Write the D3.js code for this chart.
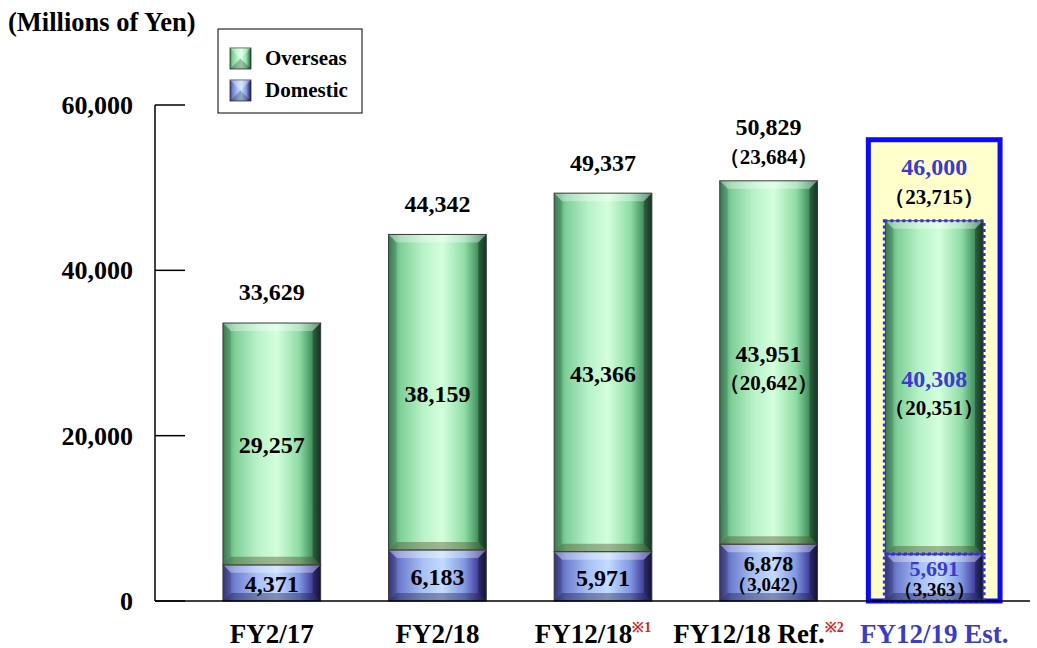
<!DOCTYPE html>
<html>
<head>
<meta charset="utf-8">
<script src="https://cdn.jsdelivr.net/npm/d3@7"></script>
<style>
  html, body { margin: 0; padding: 0; background: #fff; }
  svg text { font-family: "Liberation Serif", "Times New Roman", serif; font-weight: bold; }
</style>
</head>
<body>
<svg id="chart" width="1037" height="648"></svg>
<script>
// Net sales by fiscal period (millions of yen)
const categories = ["FY2/17", "FY2/18", "FY12/18", "FY12/18 Ref.", "FY12/19 Est."];
const notes      = ["", "", "※1", "※2", ""];
const overseas   = [29257, 38159, 43366, 43951, 40308];
const domestic   = [4371, 6183, 5971, 6878, 5691];
const totals     = [33629, 44342, 49337, 50829, 46000];
// figures shown in parentheses (comparable-period basis)
const subTotals   = [null, null, null, 23684, 23715];
const subOverseas = [null, null, null, 20642, 20351];
const subDomestic = [null, null, null, 3042, 3363];
const yTicks = [0, 20000, 40000, 60000];
const estimateIndex = 4;

const svg = d3.select("#chart");
const fmt = d3.format(",");
const blue = "#3b3bd0";

const x = d3.scaleBand().domain(categories).range([189, 1017]).paddingInner(0.41).paddingOuter(0.205);
const y = d3.scaleLinear().domain([0, 60000]).range([601, 105]);

// ---- gradients ----
const defs = svg.append("defs");
function hGrad(id, stops) {
  const g = defs.append("linearGradient").attr("id", id).attr("x1", 0).attr("x2", 1).attr("y1", 0).attr("y2", 0);
  stops.forEach(([o, c]) => g.append("stop").attr("offset", o).attr("stop-color", c));
}
hGrad("gGreen", [[0, "#3f8a5c"], [0.12, "#7fcf98"], [0.35, "#b8f2c8"], [0.55, "#d4ffdc"], [0.78, "#8fdca6"], [0.9, "#4a9a66"], [1, "#1c4a2e"]]);
hGrad("gBlue", [[0, "#3a3a8a"], [0.12, "#7080d0"], [0.35, "#a8c0f4"], [0.55, "#c4dcff"], [0.78, "#8098e0"], [0.9, "#4a4aa8"], [1, "#1a1a50"]]);

// ---- estimate highlight frame ----
const ex = x(categories[estimateIndex]);
svg.append("rect")
  .attr("x", ex - 17).attr("y", y(totals[estimateIndex]) - 81)
  .attr("width", x.bandwidth() + 34).attr("height", y(0) - y(totals[estimateIndex]) + 81)
  .attr("fill", "#ffffcc").attr("stroke", "#0a0aff").attr("stroke-width", 5);

// ---- bars ----
const segs = [];
categories.forEach((c, i) => {
  segs.push({ c, i, kind: "d", y0: 0, y1: domestic[i] });
  segs.push({ c, i, kind: "o", y0: domestic[i], y1: domestic[i] + overseas[i] });
});

const bev = 8;
const bw = x.bandwidth();
const g = svg.append("g");
segs.forEach(s => {
  const x0 = x(s.c), top = y(s.y1), bot = y(s.y0), h = bot - top;
  const grp = g.append("g");
  grp.append("rect").attr("x", x0).attr("y", top).attr("width", bw).attr("height", h)
    .attr("fill", s.kind === "o" ? "url(#gGreen)" : "url(#gBlue)");
  const b = Math.min(bev, h / 3);
  // bevelled edges: light top, dark bottom, shaded sides
  grp.append("path").attr("d", `M${x0},${top}L${x0 + bw},${top}L${x0 + bw - b},${top + b}L${x0 + b},${top + b}Z`)
    .attr("fill", "#ffffff").attr("opacity", 0.35);
  grp.append("path").attr("d", `M${x0},${bot}L${x0 + bw},${bot}L${x0 + bw - b},${bot - b}L${x0 + b},${bot - b}Z`)
    .attr("fill", s.kind === "o" ? "#4a4a20" : "#1a1a4a").attr("opacity", 0.4);
  grp.append("path").attr("d", `M${x0},${top}L${x0 + b},${top + b}L${x0 + b},${bot - b}L${x0},${bot}Z`)
    .attr("fill", "#000").attr("opacity", 0.12);
  grp.append("path").attr("d", `M${x0 + bw},${top}L${x0 + bw - b},${top + b}L${x0 + bw - b},${bot - b}L${x0 + bw},${bot}Z`)
    .attr("fill", "#000").attr("opacity", 0.3);
  grp.append("rect").attr("x", x0).attr("y", top).attr("width", bw).attr("height", h)
    .attr("fill", "none").attr("stroke", "#3a3a3a").attr("stroke-width", 1);
  if (s.i === estimateIndex) {
    grp.append("rect").attr("x", x0 - 1).attr("y", top).attr("width", bw + 2).attr("height", h)
      .attr("fill", "none").attr("stroke", "#3030e0").attr("stroke-width", 3).attr("stroke-dasharray", "3,3");
  }
});

// ---- axes ----
const axis = svg.append("g");
axis.append("line").attr("x1", 155).attr("x2", 155).attr("y1", y(60000)).attr("y2", y(0)).attr("stroke", "#000").attr("stroke-width", 1.5);
axis.append("line").attr("x1", 155).attr("x2", 1030).attr("y1", y(0)).attr("y2", y(0)).attr("stroke", "#000").attr("stroke-width", 1.5);
axis.selectAll(".tick").data(yTicks).join("line")
  .attr("x1", 155).attr("x2", 185).attr("y1", d => y(d)).attr("y2", d => y(d))
  .attr("stroke", "#000").attr("stroke-width", 1.5);
axis.selectAll(".tl").data(yTicks).join("text")
  .attr("x", 133).attr("y", d => y(d)).attr("dy", "0.35em")
  .attr("text-anchor", "end").attr("font-size", 26).text(d => fmt(d));

svg.append("text").attr("x", 8).attr("y", 31).attr("font-size", 26.5).text("(Millions of Yen)");

// ---- value labels ----
const paren = v => `（${fmt(v)}）`;
const lab = svg.append("g").attr("text-anchor", "middle");
function label(cx, cy, txt, size, color) {
  lab.append("text").attr("x", cx).attr("y", cy).attr("dy", "0.35em")
    .attr("font-size", size).attr("fill", color).text(txt);
}
categories.forEach((c, i) => {
  const cx = x(c) + bw / 2;
  const col = i === estimateIndex ? blue : "#000";
  const top = y(domestic[i] + overseas[i]);
  // totals above bar
  if (subTotals[i] == null) {
    label(cx, top - 31, fmt(totals[i]), 24, col);
  } else {
    label(cx, top - 54, fmt(totals[i]), 24, col);
    label(cx, top - 24, paren(subTotals[i]), 21, "#000");
  }
  // overseas segment
  const om = (y(domestic[i]) + top) / 2;
  if (subOverseas[i] == null) {
    label(cx, om + 1, fmt(overseas[i]), 24, col);
  } else {
    label(cx, om - 9, fmt(overseas[i]), 24, col);
    label(cx, om + 20, paren(subOverseas[i]), 21, "#000");
  }
  // domestic segment
  const dm = (y(0) + y(domestic[i])) / 2;
  if (subDomestic[i] == null) {
    label(cx, dm + 1, fmt(domestic[i]), 24, col);
  } else {
    label(cx, dm - 9, fmt(domestic[i]), 22, col);
    label(cx, dm + 12, paren(subDomestic[i]), 19, "#000");
  }
});

// ---- category labels ----
const cat = svg.append("g");
categories.forEach((c, i) => {
  const t = cat.append("text").attr("x", x(c) + bw / 2 - (notes[i] ? 10 : 0)).attr("y", 643)
    .attr("text-anchor", "middle").attr("font-size", 27)
    .attr("fill", i === estimateIndex ? blue : "#000");
  t.append("tspan").text(c);
  if (notes[i]) {
    t.append("tspan").attr("font-size", 14).attr("fill", "#e02020").attr("dy", -11).text(notes[i]);
  }
});

// ---- legend ----
const leg = svg.append("g");
leg.append("rect").attr("x", 218).attr("y", 29).attr("width", 144).attr("height", 84)
  .attr("fill", "#fff").attr("stroke", "#000").attr("stroke-width", 1);
[["Overseas", "url(#gGreen)", 48], ["Domestic", "url(#gBlue)", 80]].forEach(([name, fill, yy]) => {
  const s = 21, sx = 230;
  leg.append("rect").attr("x", sx).attr("y", yy).attr("width", s).attr("height", s).attr("fill", fill).attr("stroke", "#333").attr("stroke-width", 0.8);
  leg.append("path").attr("d", `M${sx},${yy}L${sx + s},${yy}L${sx + s / 2},${yy + s / 2}Z`).attr("fill", "#fff").attr("opacity", 0.3);
  leg.append("path").attr("d", `M${sx},${yy + s}L${sx + s},${yy + s}L${sx + s / 2},${yy + s / 2}Z`).attr("fill", "#000").attr("opacity", 0.25);
  leg.append("text").attr("x", 265).attr("y", yy + 10).attr("dy", "0.35em").attr("font-size", 21).text(name);
});
</script>
</body>
</html>
